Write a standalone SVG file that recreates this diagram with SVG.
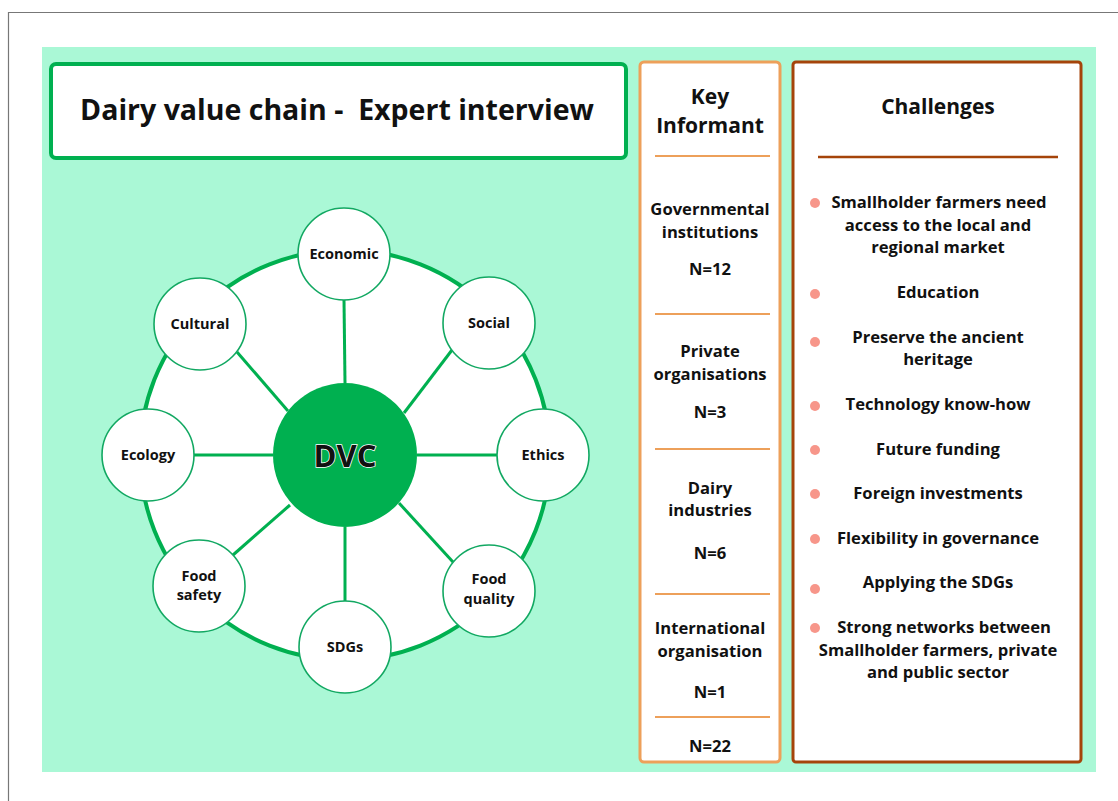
<svg xmlns="http://www.w3.org/2000/svg" width="1118" height="801" viewBox="0 0 1118 801">
<style>
text{font-family:"Open Sans","Liberation Sans",sans-serif;font-weight:bold;fill:#111;text-anchor:middle}
.sat{fill:#fff;stroke:#12a862;stroke-width:1.6}
.spoke{stroke:#00b050;stroke-width:3}
.lbl{font-size:14.5px}
.ki{font-size:16.6px}
.ch{font-size:16.6px}
.bul{fill:#f7968a}
.ksep{stroke:#eda05a;stroke-width:2}
</style>
<rect x="0" y="0" width="1118" height="801" fill="#fff"/>
<path d="M8.5 801V12.5H1118" fill="none" stroke="#777" stroke-width="1.2"/>
<rect x="42" y="47" width="1054" height="725" fill="#aaf8d6"/>
<g id="title">
<rect x="51" y="64" width="575" height="94" rx="5" fill="#fff" stroke="#00b050" stroke-width="4"/>
<text x="337" y="120" style="font-size:28.5px;white-space:pre" xml:space="preserve">Dairy value chain -  Expert interview</text>
</g>
<g id="ring">
<circle cx="345" cy="455" r="205" fill="#fff" stroke="#00b050" stroke-width="4"/>
</g>
<g id="connectors">
<line class="spoke" x1="345" y1="383" x2="344" y2="300"/>
<line class="spoke" x1="404" y1="413" x2="452" y2="350"/>
<line class="spoke" x1="417" y1="455" x2="497" y2="455"/>
<line class="spoke" x1="399" y1="503" x2="453" y2="562"/>
<line class="spoke" x1="345" y1="527" x2="345" y2="601"/>
<line class="spoke" x1="290" y1="505" x2="233" y2="555"/>
<line class="spoke" x1="273" y1="455" x2="194" y2="455"/>
<line class="spoke" x1="288" y1="411" x2="237" y2="352"/>
</g>
<g id="dvc">
<circle cx="345" cy="455" r="72" fill="#00b050"/>
<text x="345" y="467" style="font-size:31px;fill:#111;stroke:#fff;stroke-width:1.5;paint-order:stroke">DVC</text>
</g>
<g id="economic"><circle class="sat" cx="344" cy="254" r="46"/><text class="lbl" x="344" y="259">Economic</text></g>
<g id="social"><circle class="sat" cx="489" cy="323" r="46"/><text class="lbl" x="489" y="328">Social</text></g>
<g id="ethics"><circle class="sat" cx="543" cy="455" r="46"/><text class="lbl" x="543" y="460">Ethics</text></g>
<g id="food-quality"><circle class="sat" cx="489" cy="591" r="46"/><text class="lbl" x="489" y="584">Food</text><text class="lbl" x="489" y="604">quality</text></g>
<g id="sdgs"><circle class="sat" cx="345" cy="647" r="46"/><text class="lbl" x="345" y="652">SDGs</text></g>
<g id="food-safety"><circle class="sat" cx="199" cy="586" r="46"/><text class="lbl" x="199" y="581">Food</text><text class="lbl" x="199" y="600">safety</text></g>
<g id="ecology"><circle class="sat" cx="148" cy="455" r="46"/><text class="lbl" x="148" y="460">Ecology</text></g>
<g id="cultural"><circle class="sat" cx="200" cy="324" r="46"/><text class="lbl" x="200" y="329">Cultural</text></g>
<g id="key-informant">
<rect x="640" y="62" width="140" height="700" rx="4" fill="#fff" stroke="#eda05a" stroke-width="3"/>
<text x="710" y="104" style="font-size:21px">Key</text>
<text x="710" y="133" style="font-size:21px">Informant</text>
<line class="ksep" x1="655" y1="156" x2="770" y2="156"/>
<text class="ki" x="710" y="215">Governmental</text>
<text class="ki" x="710" y="238">institutions</text>
<text class="ki" x="710" y="275">N=12</text>
<line class="ksep" x1="655" y1="314" x2="770" y2="314"/>
<text class="ki" x="710" y="357">Private</text>
<text class="ki" x="710" y="380">organisations</text>
<text class="ki" x="710" y="418">N=3</text>
<line class="ksep" x1="655" y1="449" x2="770" y2="449"/>
<text class="ki" x="710" y="494">Dairy</text>
<text class="ki" x="710" y="516">industries</text>
<text class="ki" x="710" y="559">N=6</text>
<line class="ksep" x1="655" y1="594" x2="770" y2="594"/>
<text class="ki" x="710" y="634">International</text>
<text class="ki" x="710" y="657">organisation</text>
<text class="ki" x="710" y="698">N=1</text>
<line class="ksep" x1="655" y1="717" x2="770" y2="717"/>
<text class="ki" x="710" y="752">N=22</text>
</g>
<g id="challenges">
<rect x="793" y="62" width="288" height="700" rx="3" fill="#fff" stroke="#a5440a" stroke-width="3"/>
<text x="938" y="114" style="font-size:21px">Challenges</text>
<line x1="818" y1="157" x2="1058" y2="157" stroke="#a5440a" stroke-width="2.5"/>
<circle class="bul" cx="815" cy="203" r="5"/>
<text class="ch" x="939" y="208">Smallholder farmers need</text>
<text class="ch" x="938" y="231">access to the local and</text>
<text class="ch" x="938" y="253">regional market</text>
<circle class="bul" cx="815" cy="294" r="5"/>
<text class="ch" x="938" y="298">Education</text>
<circle class="bul" cx="815" cy="342" r="5"/>
<text class="ch" x="938" y="343">Preserve the ancient</text>
<text class="ch" x="938" y="365">heritage</text>
<circle class="bul" cx="815" cy="406" r="5"/>
<text class="ch" x="938" y="410">Technology know-how</text>
<circle class="bul" cx="815" cy="450" r="5"/>
<text class="ch" x="938" y="455">Future funding</text>
<circle class="bul" cx="815" cy="494" r="5"/>
<text class="ch" x="938" y="499">Foreign investments</text>
<circle class="bul" cx="815" cy="539" r="5"/>
<text class="ch" x="938" y="544">Flexibility in governance</text>
<circle class="bul" cx="815" cy="589" r="5"/>
<text class="ch" x="938" y="588">Applying the SDGs</text>
<circle class="bul" cx="815" cy="628" r="5"/>
<text class="ch" x="944" y="633">Strong networks between</text>
<text class="ch" x="938" y="656">Smallholder farmers, private</text>
<text class="ch" x="938" y="678">and public sector</text>
</g>
</svg>
